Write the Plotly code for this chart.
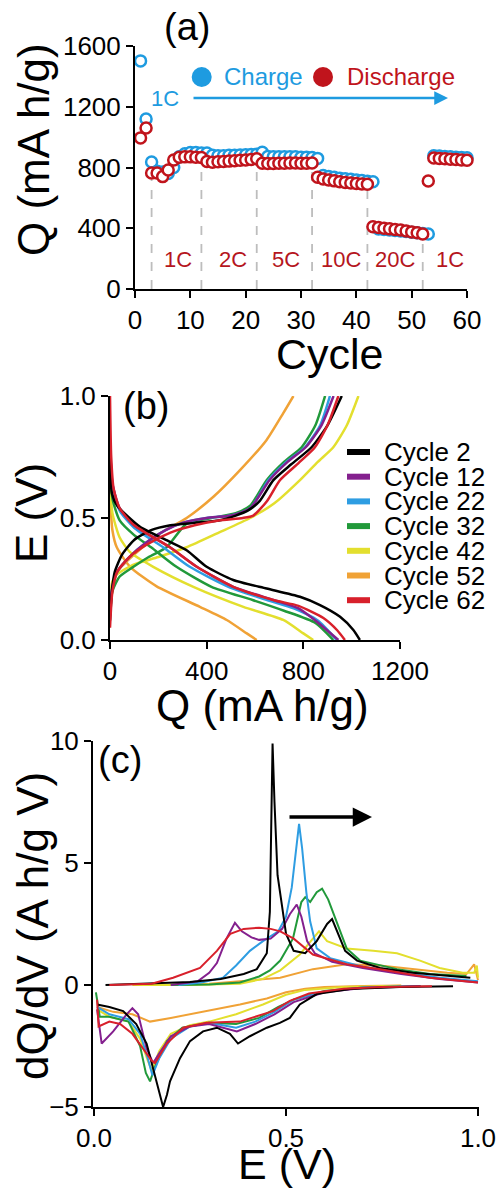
import plotly.graph_objects as go

W, H = 501, 1191
FONT = "Liberation Sans, Arial, Helvetica, sans-serif"

# ---------------- Panel (a) data ----------------
cycles = list(range(1, 63))
charge_q = [1502, 1120, 836, 775, 770, 760, 800, 870, 890, 898, 898, 896, 895,
            880, 878, 878, 880, 880, 882, 884, 886, 888, 900,
            872, 870, 870, 870, 870, 870, 868, 868, 866, 860,
            748, 740, 735, 730, 726, 722, 718, 714, 710, 706,
            395, 392, 388, 385, 382, 378, 374, 370, 366, 362,
            878, 875, 872, 870, 868, 866, 864, 862, 860]
discharge_q = [995, 1060, 764, 764, 740, 784, 850, 868, 870, 870, 868, 866,
               840, 835, 838, 840, 842, 845, 848, 850, 852, 858,
               828, 826, 826, 828, 828, 830, 830, 828, 828, 830,
               736, 725, 718, 712, 706, 702, 698, 695, 692, 690,
               410, 405, 400, 396, 392, 388, 382, 376, 370, 362,
               711,
               863, 860, 857, 855, 852, 850, 848, 845, 842]
rate_bounds = [3, 12, 22, 32, 42, 52]
rate_bound_tops = [720, 830, 830, 800, 680, 330]
rate_labels = ["1C", "2C", "5C", "10C", "20C", "1C"]
rate_label_x = [7.8, 17.8, 27.3, 37.2, 47.0, 57.0]
rate_label_y = 197

# ---------------- Panel (b) data ----------------
cycle_names = ["Cycle 2", "Cycle 12", "Cycle 22", "Cycle 32", "Cycle 42", "Cycle 52", "Cycle 62"]
cycle_colors = ["#000000", "#84208E", "#2E9DE2", "#21993A", "#E3DF2E", "#F0A236", "#D8202B"]

chg_Q = {
    "Cycle 2":  [0, 8, 20, 50, 100, 170, 250, 350, 450, 520, 570, 620, 676, 750, 834, 900, 959],
    "Cycle 12": [0, 10, 30, 80, 150, 230, 300, 400, 500, 580, 660, 735, 810, 875, 925],
    "Cycle 22": [0, 10, 30, 80, 150, 230, 300, 400, 500, 580, 655, 730, 807, 870, 910],
    "Cycle 32": [0, 10, 40, 97, 160, 234, 317, 420, 520, 580, 648, 720, 793, 850, 890],
    "Cycle 42": [0, 10, 30, 100, 200, 317, 450, 580, 680, 786, 860, 924, 980, 1028],
    "Cycle 52": [0, 14, 30, 100, 207, 317, 428, 538, 648, 717, 759],
    "Cycle 62": [0, 10, 30, 80, 150, 250, 350, 450, 550, 593, 650, 703, 780, 848, 900, 945],
}
chg_E = {
    "Cycle 2":  [0.08, 0.20, 0.28, 0.35, 0.41, 0.45, 0.47, 0.48, 0.49, 0.51, 0.53, 0.57, 0.655, 0.72, 0.79, 0.88, 1.0],
    "Cycle 12": [0.12, 0.22, 0.28, 0.34, 0.40, 0.45, 0.48, 0.50, 0.51, 0.54, 0.655, 0.73, 0.79, 0.88, 1.0],
    "Cycle 22": [0.12, 0.22, 0.28, 0.34, 0.40, 0.45, 0.48, 0.50, 0.51, 0.54, 0.655, 0.73, 0.79, 0.88, 1.0],
    "Cycle 32": [0.10, 0.20, 0.26, 0.30, 0.34, 0.38, 0.477, 0.50, 0.52, 0.55, 0.655, 0.73, 0.79, 0.88, 1.0],
    "Cycle 42": [0.17, 0.24, 0.27, 0.31, 0.34, 0.38, 0.44, 0.50, 0.56, 0.655, 0.73, 0.79, 0.88, 1.0],
    "Cycle 52": [0.15, 0.22, 0.28, 0.35, 0.437, 0.50, 0.587, 0.696, 0.82, 0.93, 1.0],
    "Cycle 62": [0.05, 0.20, 0.28, 0.34, 0.39, 0.44, 0.47, 0.49, 0.50, 0.51, 0.57, 0.655, 0.725, 0.79, 0.88, 1.0],
}
dis_Q = {
    "Cycle 2":  [0, 8, 30, 124, 234, 317, 400, 510, 648, 786, 869, 952, 1007, 1034],
    "Cycle 12": [0, 10, 40, 100, 248, 359, 510, 676, 780, 850, 945],
    "Cycle 22": [0, 10, 40, 100, 220, 330, 490, 650, 760, 860, 938],
    "Cycle 32": [0, 10, 40, 100, 170, 275, 420, 590, 720, 850, 924],
    "Cycle 42": [0, 10, 40, 83, 179, 345, 552, 717, 800, 841],
    "Cycle 52": [0, 10, 28, 83, 193, 372, 483, 566, 607],
    "Cycle 62": [0, 5, 15, 40, 100, 248, 359, 510, 676, 780, 883, 940, 972],
}
dis_E = {
    "Cycle 2":  [0.75, 0.60, 0.55, 0.464, 0.409, 0.368, 0.30, 0.246, 0.211, 0.177, 0.143, 0.095, 0.041, 0.0],
    "Cycle 12": [0.80, 0.64, 0.54, 0.47, 0.38, 0.30, 0.218, 0.164, 0.13, 0.08, 0.0],
    "Cycle 22": [0.82, 0.64, 0.53, 0.46, 0.38, 0.30, 0.218, 0.164, 0.13, 0.08, 0.0],
    "Cycle 32": [0.72, 0.58, 0.49, 0.43, 0.38, 0.30, 0.218, 0.164, 0.12, 0.07, 0.0],
    "Cycle 42": [0.65, 0.52, 0.42, 0.36, 0.30, 0.218, 0.136, 0.082, 0.027, 0.0],
    "Cycle 52": [0.60, 0.45, 0.38, 0.30, 0.22, 0.136, 0.082, 0.027, 0.0],
    "Cycle 62": [1.0, 0.75, 0.62, 0.54, 0.47, 0.38, 0.30, 0.218, 0.164, 0.14, 0.09, 0.04, 0.0],
}

# ---------------- Panel (c) data ----------------
pos_E = {
    "Cycle 2":  [0.03, 0.15, 0.25, 0.33, 0.39, 0.424, 0.45, 0.458, 0.462, 0.465, 0.47, 0.478, 0.49, 0.50, 0.52, 0.55, 0.58, 0.607, 0.62, 0.635, 0.654, 0.685, 0.745, 0.83, 0.92, 0.98],
    "Cycle 12": [0.20, 0.27, 0.30, 0.32, 0.345, 0.367, 0.385, 0.41, 0.43, 0.46, 0.49, 0.51, 0.528, 0.54, 0.555, 0.575, 0.62, 0.70, 0.80, 0.90, 1.0],
    "Cycle 22": [0.22, 0.28, 0.336, 0.37, 0.406, 0.44, 0.48, 0.50, 0.515, 0.527, 0.534, 0.542, 0.553, 0.563, 0.58, 0.615, 0.70, 0.80, 0.90, 1.0],
    "Cycle 32": [0.20, 0.30, 0.38, 0.43, 0.458, 0.485, 0.518, 0.54, 0.55, 0.563, 0.58, 0.594, 0.61, 0.628, 0.658, 0.693, 0.789, 0.875, 0.97],
    "Cycle 42": [0.10, 0.25, 0.38, 0.44, 0.485, 0.536, 0.57, 0.586, 0.607, 0.658, 0.727, 0.789, 0.849, 0.90, 0.96, 0.99, 0.997, 1.0],
    "Cycle 52": [0.17, 0.30, 0.38, 0.485, 0.57, 0.658, 0.745, 0.83, 0.92, 0.97, 0.99, 1.0],
    "Cycle 62": [0.04, 0.15, 0.206, 0.276, 0.32, 0.355, 0.39, 0.43, 0.46, 0.485, 0.52, 0.57, 0.658, 0.745, 0.875, 0.97, 1.0],
}
pos_dQ = {
    "Cycle 2":  [0.0, 0.05, 0.12, 0.25, 0.45, 0.65, 1.3, 3.0, 6.5, 9.9, 7.5, 4.5, 3.2, 2.1, 1.4, 1.3, 1.8, 2.5, 2.7, 2.1, 1.4, 1.0, 0.7, 0.5, 0.37, 0.3],
    "Cycle 12": [0.0, 0.15, 0.5, 0.9, 1.9, 2.55, 2.2, 1.95, 1.85, 1.9, 2.3, 2.9, 3.3, 2.8, 1.8, 1.3, 0.95, 0.7, 0.45, 0.25, 0.1],
    "Cycle 22": [0.0, 0.1, 0.3, 0.8, 1.4, 1.8, 2.2, 2.8, 4.0, 5.8, 6.6, 5.6, 3.8, 2.6, 1.5, 1.1, 0.75, 0.5, 0.3, 0.15],
    "Cycle 32": [0.0, 0.02, 0.1, 0.35, 0.6, 1.0, 1.9, 3.4, 3.6, 3.4, 3.8, 3.95, 3.5, 2.75, 1.5, 1.0, 0.65, 0.45, 0.37],
    "Cycle 42": [0.0, 0.0, 0.05, 0.25, 0.6, 1.25, 1.9, 2.2, 1.8, 1.5, 1.4, 1.3, 1.0, 0.7, 0.5, 0.5, 0.8, 0.3],
    "Cycle 52": [0.0, 0.05, 0.15, 0.3, 0.65, 0.85, 0.8, 0.65, 0.5, 0.45, 0.85, 0.2],
    "Cycle 62": [0.0, 0.05, 0.3, 0.7, 1.4, 2.1, 2.3, 2.35, 2.3, 2.2, 1.9, 1.25, 0.85, 0.65, 0.3, 0.15, 0.1],
}
neg_E = {
    "Cycle 2":  [0.008, 0.04, 0.076, 0.11, 0.137, 0.154, 0.168, 0.18, 0.19, 0.198, 0.224, 0.25, 0.284, 0.32, 0.354, 0.375, 0.406, 0.45, 0.484, 0.51, 0.536, 0.58, 0.667, 0.797, 0.935],
    "Cycle 12": [0.008, 0.02, 0.05, 0.085, 0.10, 0.115, 0.137, 0.154, 0.17, 0.20, 0.25, 0.30, 0.372, 0.42, 0.47, 0.52, 0.60, 0.70, 0.85],
    "Cycle 22": [0.008, 0.04, 0.09, 0.12, 0.14, 0.152, 0.17, 0.20, 0.25, 0.30, 0.37, 0.42, 0.47, 0.52, 0.60, 0.70, 0.85],
    "Cycle 32": [0.005, 0.015, 0.04, 0.09, 0.12, 0.135, 0.146, 0.16, 0.19, 0.23, 0.30, 0.37, 0.43, 0.48, 0.52, 0.60, 0.70, 0.85],
    "Cycle 42": [0.008, 0.04, 0.09, 0.12, 0.14, 0.15, 0.17, 0.20, 0.25, 0.30, 0.37, 0.44, 0.50, 0.55, 0.65, 0.80],
    "Cycle 52": [0.008, 0.05, 0.10, 0.146, 0.20, 0.25, 0.30, 0.38, 0.45, 0.50, 0.55, 0.60, 0.70, 0.80],
    "Cycle 62": [0.008, 0.012, 0.04, 0.068, 0.10, 0.128, 0.15, 0.159, 0.19, 0.232, 0.293, 0.38, 0.466, 0.51, 0.56, 0.65, 0.75, 0.88],
}
neg_dQ = {
    "Cycle 2":  [-0.8, -0.9, -1.07, -1.6, -2.4, -3.4, -4.3, -5.0, -4.5, -3.95, -3.0, -2.3, -1.9, -1.75, -2.0, -2.4, -2.1, -1.75, -1.55, -1.35, -0.8, -0.37, -0.16, -0.08, -0.05],
    "Cycle 12": [-1.0, -2.4, -1.9, -1.2, -0.95, -1.2, -2.6, -3.2, -2.8, -2.1, -1.7, -1.6, -1.9, -1.6, -1.2, -0.7, -0.3, -0.12, -0.05],
    "Cycle 22": [-0.9, -1.2, -1.4, -2.0, -3.0, -3.7, -3.0, -2.2, -1.7, -1.55, -1.75, -1.5, -1.1, -0.6, -0.28, -0.1, -0.04],
    "Cycle 32": [-0.3, -1.3, -1.3, -1.5, -2.5, -3.6, -3.95, -3.3, -2.3, -1.75, -1.55, -1.6, -1.35, -0.9, -0.6, -0.25, -0.1, -0.04],
    "Cycle 42": [-1.0, -1.3, -1.5, -2.2, -3.1, -3.5, -2.7, -2.0, -1.65, -1.5, -1.2, -0.8, -0.4, -0.2, -0.08, -0.03],
    "Cycle 52": [-0.9, -1.1, -1.2, -1.5, -1.35, -1.2, -1.05, -0.8, -0.55, -0.3, -0.15, -0.08, -0.04, -0.02],
    "Cycle 62": [-0.6, -1.7, -1.5, -1.6, -2.0, -2.6, -3.1, -3.2, -2.4, -1.75, -1.55, -1.5, -1.07, -0.65, -0.35, -0.15, -0.08, -0.05],
}

BLUE = "#1E9BE0"
RED = "#C0141C"
DARKRED = "#B5161E"


def px(x):
    return x / W


def py(y):
    return 1 - y / H


fig = go.Figure()

# ---- panel (a) traces ----
fig.add_trace(go.Scatter(x=cycles, y=charge_q, mode="markers", name="Charge",
                         xaxis="x", yaxis="y", cliponaxis=False, showlegend=False,
                         marker=dict(symbol="circle", size=11, color="white",
                                     line=dict(color=BLUE, width=2.5))))
fig.add_trace(go.Scatter(x=cycles, y=discharge_q, mode="markers", name="Discharge",
                         xaxis="x", yaxis="y", cliponaxis=False, showlegend=False,
                         marker=dict(symbol="circle", size=11, color="white",
                                     line=dict(color=RED, width=2.5))))

# ---- panel (b) and (c) traces ----
draw_order = ["Cycle 52", "Cycle 42", "Cycle 32", "Cycle 22", "Cycle 12", "Cycle 2", "Cycle 62"]
col = dict(zip(cycle_names, cycle_colors))
for name in draw_order:
    c = col[name]
    fig.add_trace(go.Scatter(x=chg_Q[name], y=chg_E[name], mode="lines", name=name,
                             xaxis="x2", yaxis="y2", showlegend=False,
                             line=dict(color=c, width=2.5, shape="spline", smoothing=0.6)))
    fig.add_trace(go.Scatter(x=dis_Q[name], y=dis_E[name], mode="lines", name=name,
                             xaxis="x2", yaxis="y2", showlegend=False,
                             line=dict(color=c, width=2.5, shape="spline", smoothing=0.6)))
for name in draw_order:
    c = col[name]
    fig.add_trace(go.Scatter(x=pos_E[name], y=pos_dQ[name], mode="lines", name=name,
                             xaxis="x3", yaxis="y3", showlegend=False,
                             line=dict(color=c, width=2)))
    fig.add_trace(go.Scatter(x=neg_E[name], y=neg_dQ[name], mode="lines", name=name,
                             xaxis="x3", yaxis="y3", showlegend=False,
                             line=dict(color=c, width=2)))

axis_common = dict(showline=True, linecolor="black", linewidth=2, ticks="outside",
                   ticklen=7, tickwidth=2, tickcolor="black", showgrid=False,
                   zeroline=False, automargin=False,
                   tickfont=dict(family=FONT, size=26, color="black"))

fig.update_layout(
    width=W, height=H, margin=dict(l=0, r=0, t=0, b=0, pad=0), autosize=False,
    paper_bgcolor="white", plot_bgcolor="white", showlegend=False,
    font=dict(family=FONT, color="black"),
    xaxis=dict(domain=[px(135), px(467)], range=[0, 60], tickvals=[0, 10, 20, 30, 40, 50, 60],
               anchor="y", **axis_common),
    yaxis=dict(domain=[py(289), py(46)], range=[0, 1600], tickvals=[0, 400, 800, 1200, 1600],
               anchor="x", **axis_common),
    xaxis2=dict(domain=[px(110), px(400)], range=[0, 1200], tickvals=[0, 400, 800, 1200],
                anchor="y2", **axis_common),
    yaxis2=dict(domain=[py(640), py(396)], range=[0, 1.0], tickvals=[0, 0.5, 1.0],
                ticktext=["0.0", "0.5", "1.0"], anchor="x2", **axis_common),
    xaxis3=dict(domain=[px(93), px(479)], range=[-0.0026, 1.0026], tickvals=[0, 0.5, 1.0],
                ticktext=["0.0", "0.5", "1.0"], anchor="y3", **axis_common),
    yaxis3=dict(domain=[py(1107), py(741)], range=[-5, 10], tickvals=[-5, 0, 5, 10],
                anchor="x3", **axis_common),
)

shapes = []
for xb, top in zip(rate_bounds, rate_bound_tops):
    shapes.append(dict(type="line", xref="x", yref="y", x0=xb, x1=xb, y0=0, y1=top,
                       layer="below", line=dict(color="#BDBDBD", width=1.8, dash="dash")))
# legend symbols for (a)
for cx, colr in [(201.7, BLUE), (323, RED)]:
    shapes.append(dict(type="circle", xref="paper", yref="paper",
                       x0=px(cx - 10), x1=px(cx + 10), y0=py(77 + 10), y1=py(77 - 10),
                       fillcolor=colr, line=dict(color=colr, width=0)))
# legend line samples for (b)
for i, name in enumerate(cycle_names):
    yy = 452 + 24.7 * i
    shapes.append(dict(type="line", xref="paper", yref="paper", x0=px(347), x1=px(370),
                       y0=py(yy), y1=py(yy), line=dict(color=col[name], width=6)))

ann = []


def text(x, y, s, size, color="black", angle=0, xanchor="center", xref="paper", yref="paper"):
    ann.append(dict(x=x, y=y, xref=xref, yref=yref, text=s, showarrow=False,
                    textangle=angle, xanchor=xanchor, yanchor="middle",
                    font=dict(family=FONT, size=size, color=color)))


# panel (a)
text(px(34), py(150), "Q (mA h/g)", 44, angle=-90)
text(px(330), py(354), "Cycle", 43)
text(px(187), py(27), "(a)", 38)
text(px(165), py(99), "1C", 22, color=BLUE)
text(px(222), py(77), "Charge", 24, color=BLUE, xanchor="left")
text(px(345), py(77), "Discharge", 24, color=RED, xanchor="left")
for lab, lx in zip(rate_labels, rate_label_x):
    text(lx, rate_label_y, lab, 22, color=DARKRED, xref="x", yref="y")
ann.append(dict(x=px(448), y=py(98), xref="paper", yref="paper", ax=-256, ay=0,
                text="", showarrow=True, arrowhead=2, arrowsize=1.1, arrowwidth=2.5,
                arrowcolor=BLUE))
# panel (b)
text(px(32), py(513), "E (V)", 44, angle=-90)
text(px(262), py(705), "Q (mA h/g)", 44)
text(px(146), py(406), "(b)", 38)
for i, name in enumerate(cycle_names):
    text(px(382), py(452 + 24.7 * i), name, 26, xanchor="left")
# panel (c)
text(px(32), py(926), "dQ/dV (A h/g V)", 44, angle=-90)
text(px(287), py(1164), "E (V)", 43)
text(px(120), py(760), "(c)", 38)
ann.append(dict(x=px(372), y=py(817), xref="paper", yref="paper", ax=-84, ay=0,
                text="", showarrow=True, arrowhead=2, arrowsize=1.1, arrowwidth=3.5,
                arrowcolor="black"))

fig.update_layout(shapes=shapes, annotations=ann)
fig.write_html("out.html")
